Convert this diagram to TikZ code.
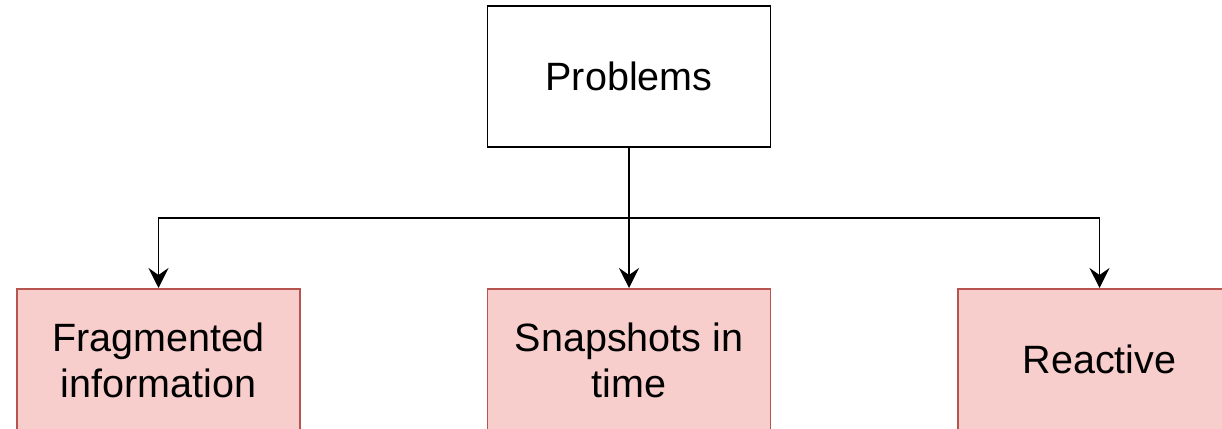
\documentclass[tikz,border=0pt]{standalone}
\usepackage{fontspec}
\setmainfont{Liberation Sans}
\usetikzlibrary{arrows.meta}
\definecolor{redfill}{HTML}{F8CECC}
\definecolor{redline}{HTML}{B85450}
\begin{document}
\begin{tikzpicture}[x=1pt,y=1pt,
  box/.style={draw, line width=1.6pt, minimum width=283pt, minimum height=141pt, inner sep=0pt, align=center, font=\fontsize{39.5}{46}\selectfont},
  redbox/.style={box, draw=redline, fill=redfill},
  twoline/.style={label={[font=\fontsize{39.5}{46}\selectfont, align=center, yshift=-6pt]center:#1}},
  conn/.style={line width=1.8pt, -{Stealth[length=20pt,width=20pt,inset=7pt]}}]
\useasboundingbox (0,0) rectangle (1222,428);
\clip (0,0) rectangle (1222,428);
\node[box] (p) at (629,351.5) {Problems};
\node[redbox,anchor=north,twoline={\strut Fragmented\\\strut information}] (f) at (158.5,140) {};
\node[redbox,anchor=north,twoline={\strut Snapshots in\\\strut time}] (s) at (629,140) {};
\node[redbox,anchor=north] (r) at (1099.5,140) {Reactive};
\coordinate (j) at (629,210);
\draw[conn] (p.south) -- (s.north);
\draw[conn] (p.south) -- (j) -| (f.north);
\draw[conn] (p.south) -- (j) -| (r.north);
\end{tikzpicture}
\end{document}
